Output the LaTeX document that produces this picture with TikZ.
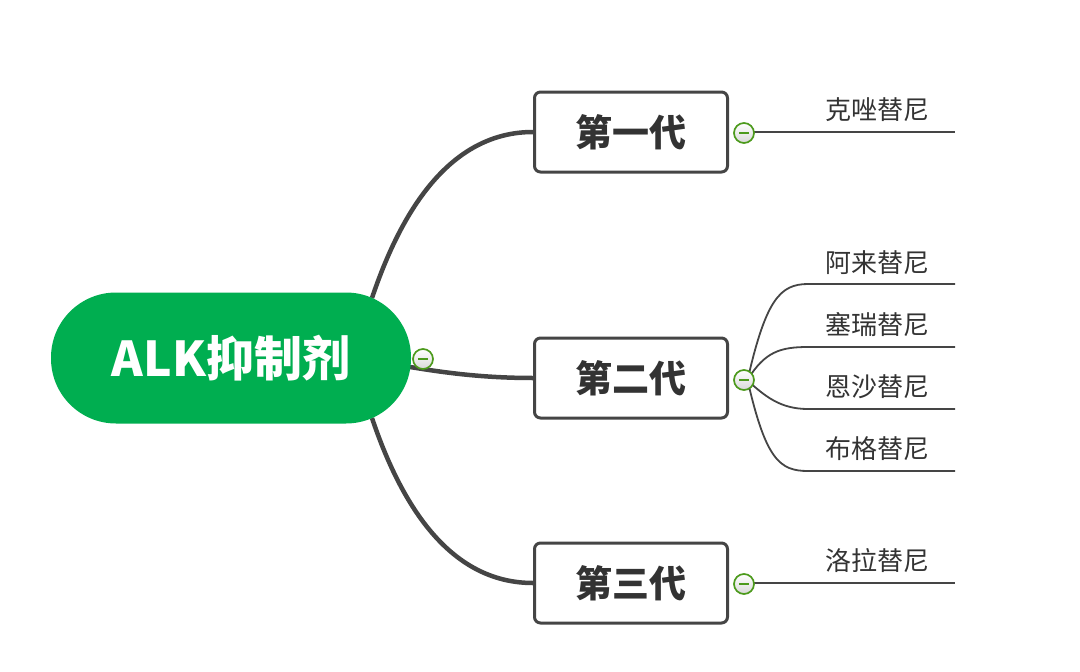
\documentclass[tikz,border=0pt]{standalone}
\usepackage{fontspec}
\newfontfamily\cjk{Noto Sans CJK SC}
\usetikzlibrary{positioning,shapes}
\definecolor{rootgreen}{HTML}{00AE50}
\definecolor{linegray}{HTML}{454545}
\definecolor{textgray}{HTML}{333333}
\definecolor{togglegreen}{HTML}{4C9A1C}

\tikzset{
  rootbox/.style={fill=rootgreen, rounded corners=65pt, minimum width=360pt,
    minimum height=131pt, text=white, font=\cjk\bfseries\fontsize{48}{52}\selectfont},
  genbox/.style={draw=linegray, line width=3pt, rounded corners=6pt, fill=white,
    minimum width=193pt, minimum height=80pt, text=textgray,
    font=\cjk\bfseries\fontsize{37}{40}\selectfont},
  leaf/.style={text=textgray, font=\cjk\fontsize{26}{30}\selectfont},
  toggle/.style={circle, draw=togglegreen, line width=1.7pt, inner sep=0pt,
    minimum size=20pt, top color=white, bottom color=black!15,
    path picture={\draw[togglegreen, line width=1.8pt]
      ([xshift=-5pt]path picture bounding box.center) --
      ([xshift=5pt]path picture bounding box.center);}},
  branch/.style={draw=linegray, line width=4.5pt},
  twig/.style={draw=linegray, line width=1.8pt}
}

\begin{document}
\begin{tikzpicture}[x=1pt, y=-1pt]
  \useasboundingbox (0,0) rectangle (1080,672);

  % generation boxes
  \node[genbox] (gen1) at (631,132) {第一代};
  \node[genbox] (gen2) at (631,378) {第二代};
  \node[genbox] (gen3) at (631,583) {第三代};

  % branches from the root
  \coordinate (r1) at (372,298);
  \coordinate (r2) at (404,366);
  \coordinate (r3) at (372,418);
  \draw[branch] (r1) .. controls (410,185) and (465,132) .. (gen1.west);
  \draw[branch] (r2) .. controls (440,372) and (480,378) .. (gen2.west);
  \draw[branch] (r3) .. controls (410,531) and (465,583) .. (gen3.west);

  % root
  \node[rootbox] (root) at (231,358) {ALK抑制剂};
  \node[toggle] (t0) at (423,359) {};

  % first generation
  \coordinate (e1) at (955,132);
  \draw[twig] (744,132) -- (e1);
  \node[toggle] (t1) at (744,133) {};
  \node[leaf] (crizo) at (877,110) {克唑替尼};

  % second generation
  \coordinate (s1) at (808,284);
  \coordinate (s2) at (808,347);
  \coordinate (s3) at (808,409);
  \coordinate (s4) at (808,471);
  \draw[twig] (748,378) .. controls (766,300) and (780,284) .. (s1) -- (955,284);
  \draw[twig] (748,379) .. controls (765,352) and (780,347) .. (s2) -- (955,347);
  \draw[twig] (748,381) .. controls (765,396) and (780,409) .. (s3) -- (955,409);
  \draw[twig] (748,382) .. controls (766,460) and (780,471) .. (s4) -- (955,471);
  \node[toggle] (t2) at (744,380) {};
  \node[leaf] (alec) at (877,263) {阿来替尼};
  \node[leaf] (ceri) at (877,325) {塞瑞替尼};
  \node[leaf] (ensa) at (877,387) {恩沙替尼};
  \node[leaf] (brig) at (877,449) {布格替尼};

  % third generation
  \coordinate (e3) at (955,583);
  \draw[twig] (744,583) -- (e3);
  \node[toggle] (t3) at (744,584) {};
  \node[leaf] (lorla) at (877,561) {洛拉替尼};
\end{tikzpicture}
\end{document}
